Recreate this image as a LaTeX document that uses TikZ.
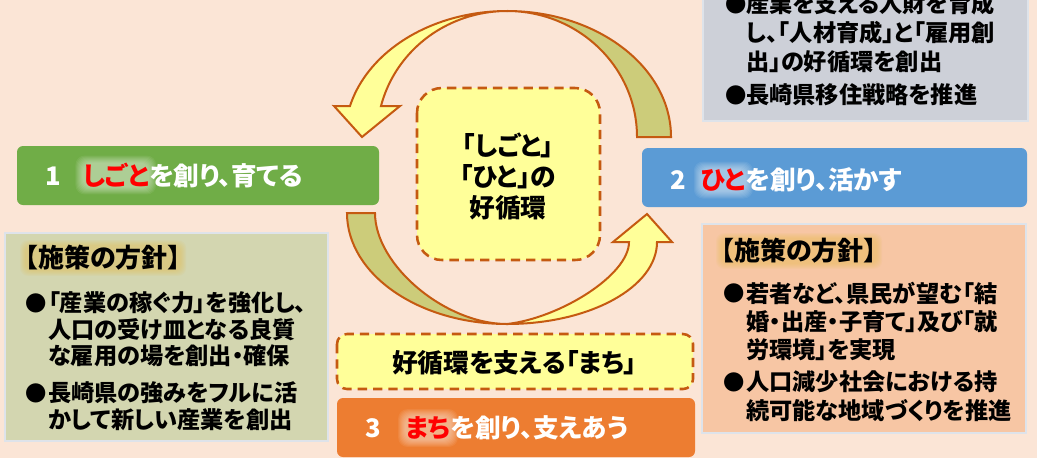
\documentclass[tikz,border=0pt]{standalone}
\usepackage{fontspec}
\setmainfont{Noto Sans CJK JP}[RawFeature=+palt]
\definecolor{bg}{HTML}{FBE5D6}
\definecolor{gbox}{HTML}{70AD47}
\definecolor{bbox}{HTML}{5B9BD5}
\definecolor{obox}{HTML}{ED7D31}
\definecolor{yel}{HTML}{FFFF99}
\definecolor{dsh}{HTML}{C55A11}
\definecolor{olv}{HTML}{CCCC7A}
\definecolor{lbox}{HTML}{D3D6B0}
\definecolor{gbx}{HTML}{CDD0D8}
\definecolor{rbox}{HTML}{F7C6A4}
\definecolor{edge}{HTML}{DEE3EA}
\definecolor{gold}{HTML}{E8BE50}
\pgfdeclarelayer{back}
\pgfdeclarelayer{glowl}
\pgfsetlayers{back,glowl,main}
\begin{document}
\begin{tikzpicture}[x=0.75pt,y=-0.75pt,
  txt/.style={inner sep=0,anchor=west,font=\bfseries\fontsize{17.4}{21}\selectfont,text=black},
  hd/.style={inner sep=0,anchor=west,font=\bfseries\fontsize{19.5}{23}\selectfont,text=black},
  bul/.style={inner sep=0,anchor=center,font=\fontsize{16}{18}\selectfont,text=black},
  btxt/.style={inner sep=0,anchor=west,font=\bfseries\fontsize{19.2}{22}\selectfont,text=white},
  bcont/.style={btxt,anchor=base west},
  ctxt/.style={inner sep=0,anchor=center,font=\bfseries\fontsize{19.3}{23}\selectfont,text=black},
  pbox/.style={draw=edge,line width=1.5pt},
  dbox/.style={draw=dsh,fill=yel,line width=1.9pt,dash pattern=on 7pt off 4.5pt},
  arw/.style={draw=dsh,line width=1.5pt,line join=miter}]
\useasboundingbox (0,0) rectangle (1037,458);
\clip (0,0) rectangle (1037,458);
\begin{pgfonlayer}{back}
\fill[bg] (0,0) rectangle (1037,458);
\fill[gbox,rounded corners=4.5pt] (17,146) rectangle (379,205);
\fill[bbox,rounded corners=4.5pt] (642,148) rectangle (1027,207);
\fill[obox,rounded corners=4.5pt] (337,398) rectangle (695,457);
\draw[pbox,fill=lbox] (5,233) rectangle (328,441);
\draw[pbox,fill=gbx] (703,-20) rectangle (1028,121);
\draw[pbox,fill=rbox] (702,224) rectangle (1026,433);
\end{pgfonlayer}

% arrows
\filldraw[arw,fill=olv] (637,137) -- (671,137) .. controls (671,67.4) and (597.5,11) .. (507,11)
  .. controls (578.8,11) and (637,67.4) .. (637,137) -- cycle;
\filldraw[arw,fill=yel] plot[domain=270:194.2,samples=40,variable=\t] ({507+162*cos(\t)},{137+126*sin(\t)})
  -- (334,106) -- (362,137) -- (400,106)
  -- plot[domain=194.2:270,samples=40,variable=\t] ({507+130*cos(\t)},{137+126*sin(\t)}) -- cycle;
\filldraw[arw,fill=olv] (347,213) -- (375,213) .. controls (375,265) and (445,324) .. (507,324)
  .. controls (418.7,324) and (347,274.3) .. (347,213) -- cycle;
\filldraw[arw,fill=yel] (507,324) .. controls (590,324) and (657,287) .. (657,242) -- (672,242) -- (647,214)
  -- (613,242) -- (629,242) .. controls (629,275) and (560,318) .. (507,324) -- cycle;

% title box texts
\node[btxt] (n1) at (45,176) {1};
\node[bcont,text=red] (w1) at ([xshift=16pt]n1.base east) {しごと};
\node[bcont] (s1) at (w1.base east) {を創り、育てる};
\node[btxt] (n2) at (670,180) {2};
\node[bcont,text=red] (w2) at ([xshift=11pt]n2.base east) {ひと};
\node[bcont] (s2) at (w2.base east) {を創り、活かす};
\node[btxt] (n3) at (365,428) {3};
\node[bcont,text=red] (w3) at ([xshift=18pt]n3.base east) {まち};
\node[bcont] (s3) at (w3.base east) {を創り、支えあう};

% centre boxes
\draw[dbox,rounded corners=18.75pt] (417,88) rectangle (600,260);
\node[ctxt] (c1) at (508,145) {「しごと」};
\node[ctxt] (c2) at (508,177) {「ひと」の};
\node[ctxt] (c3) at (508,208) {好循環};
\draw[dbox,rounded corners=7.5pt] (337,334) rectangle (693,389);
\node[ctxt] (m1) at (514.5,363) {好循環を支える「まち」};

% left policy box
\node[hd] (lh) at (25,258) {【施策の方針】};
\node[bul] (lb1) at (36,303) {●};
\node[txt] (l1) at (48,303) {「産業の稼ぐ力」を強化し、};
\node[txt] (l2) at (48,330) {人口の受け皿となる良質};
\node[txt] (l3) at (48,356) {な雇用の場を創出・確保};
\node[bul] (lb2) at (36,393) {●};
\node[txt] (l4) at (48,393) {長崎県の強みをフルに活};
\node[txt] (l5) at (48,420) {かして新しい産業を創出};

% top right box
\node[bul] (gb1) at (736,4) {●};
\node[txt] (g1) at (746,4) {産業を支える人財を育成};
\node[txt] (g2) at (746,33) {し、「人材育成」と「雇用創};
\node[txt] (g3) at (746,62) {出」の好循環を創出};
\node[bul] (gb2) at (736,95) {●};
\node[txt] (g4) at (746,95) {長崎県移住戦略を推進};

% right policy box
\node[hd] (rh) at (721,251) {【施策の方針】};
\node[bul] (rb1) at (734,293) {●};
\node[txt] (r1) at (746,293) {若者など、県民が望む「結};
\node[txt] (r2) at (746,322) {婚・出産・子育て」及び「就};
\node[txt] (r3) at (746,350) {労環境」を実現};
\node[bul] (rb2) at (734,382) {●};
\node[txt] (r4) at (746,382) {人口減少社会における持};
\node[txt] (r5) at (746,411) {続可能な地域づくりを推進};

% glows
\begin{pgfonlayer}{glowl}
\foreach \w in {w1,w2,w3}{
  \foreach \d in {0,...,7}{
    \fill[white,opacity=0.07,rounded corners=7pt] ([shift={(-\d,\d)}]\w.south west) rectangle ([shift={(\d,-\d)}]\w.north east);
  }}
\foreach \w in {lh,rh}{
  \foreach \d in {0,...,5}{
    \fill[gold,opacity=0.09,rounded corners=6pt] ([shift={(-\d,\d)}]\w.south west) rectangle ([shift={(\d,-\d)}]\w.north east);
  }}
\end{pgfonlayer}
\end{tikzpicture}
\end{document}
